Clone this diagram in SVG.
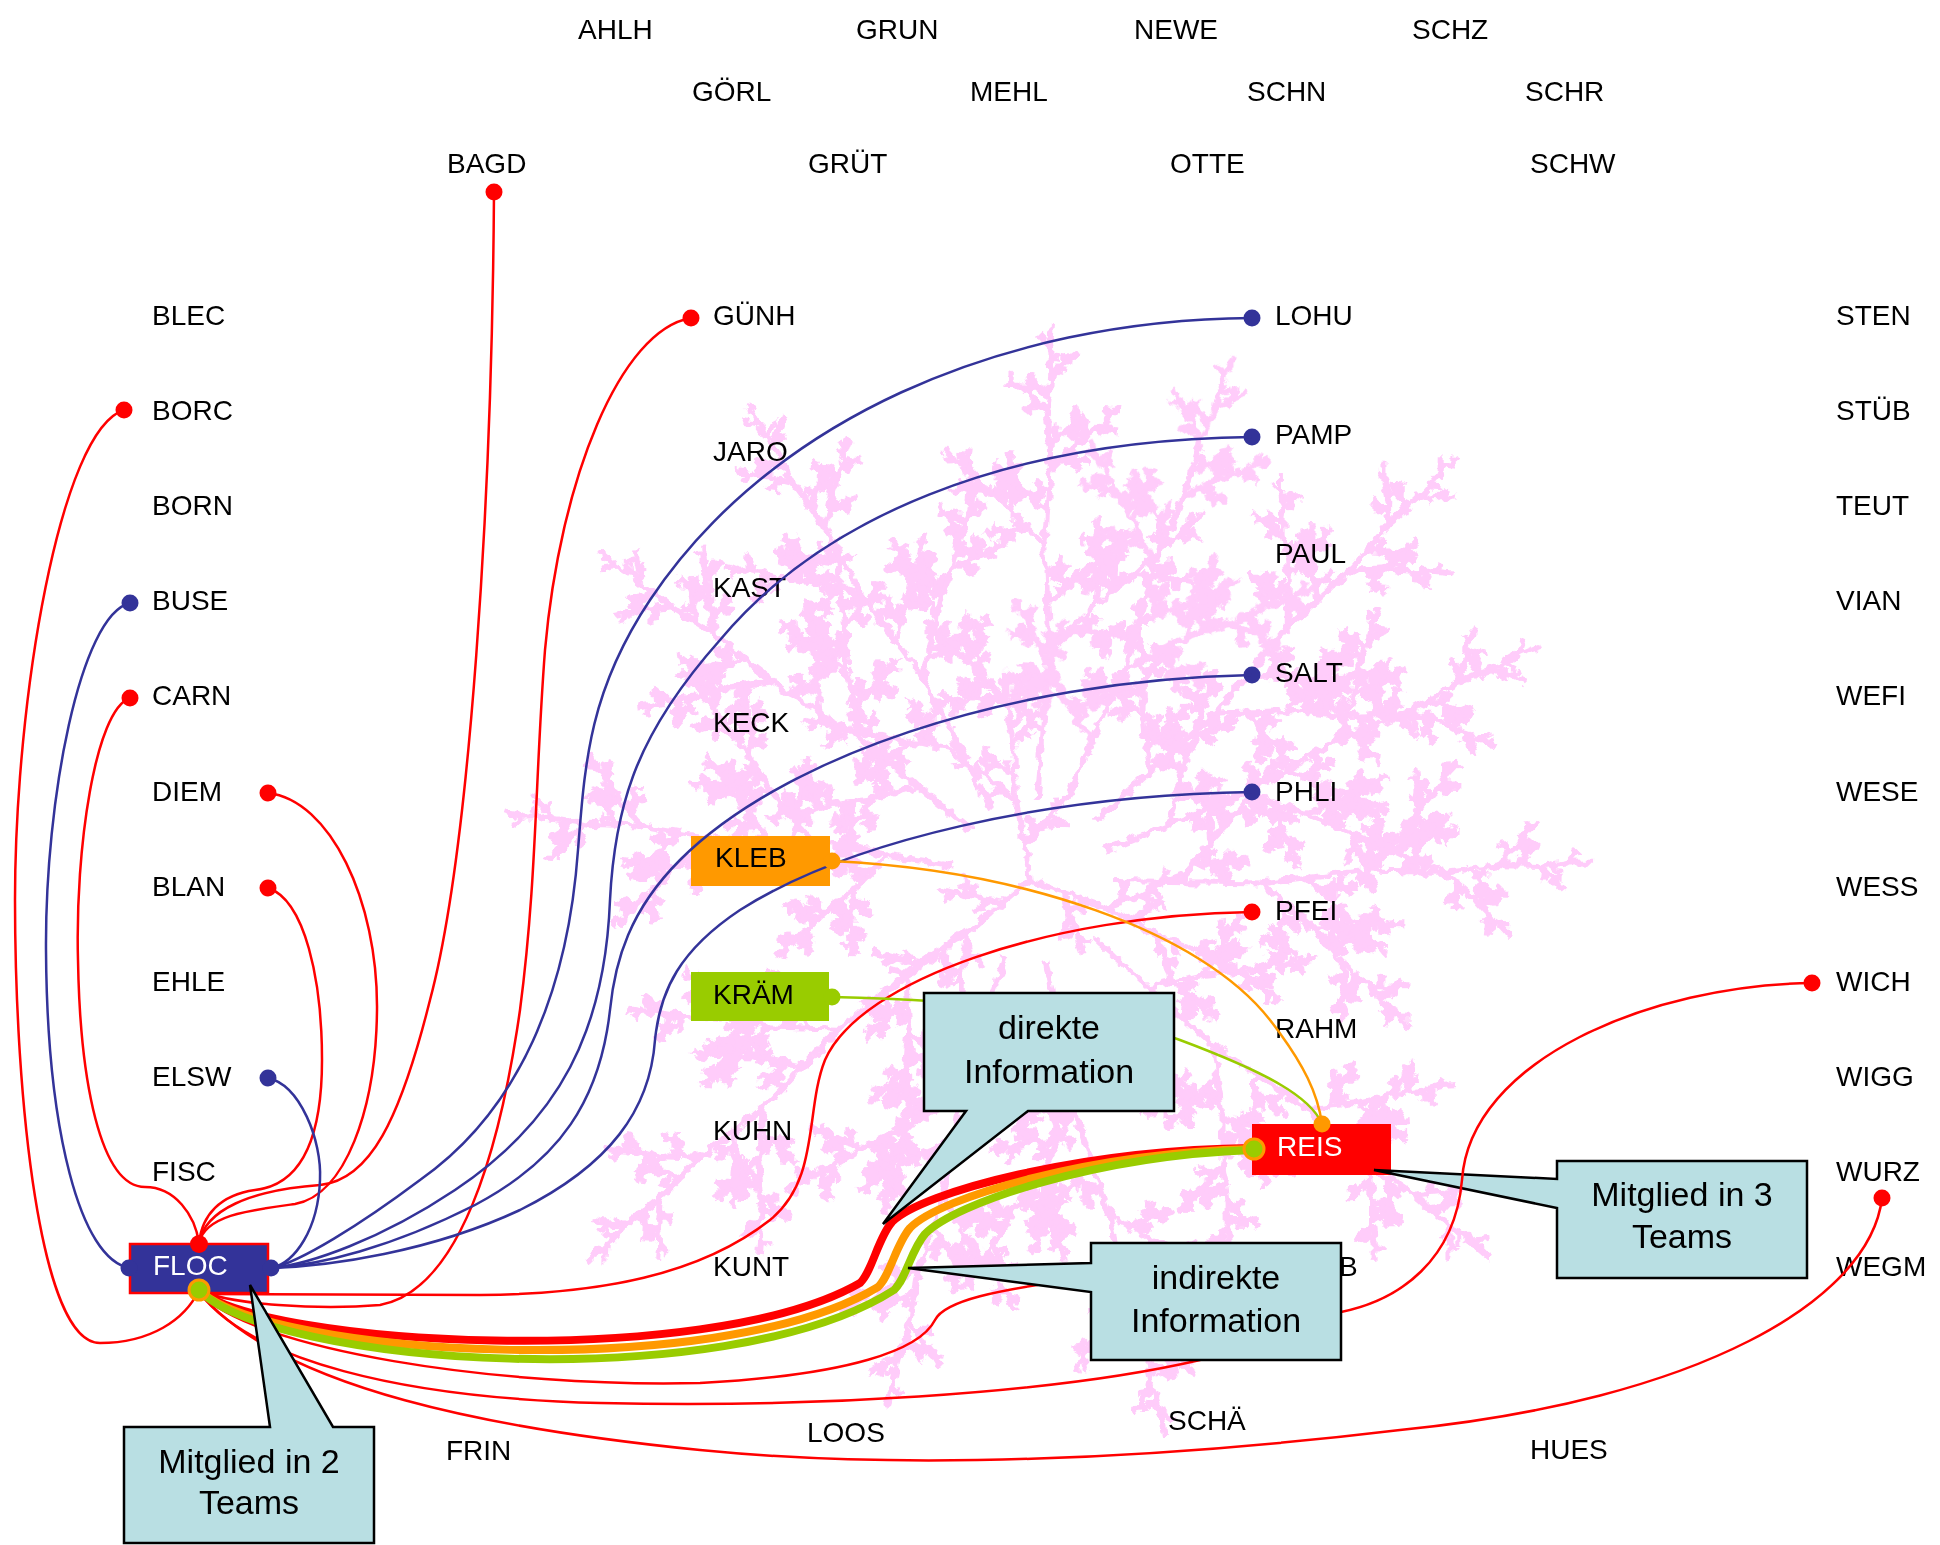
<svg xmlns="http://www.w3.org/2000/svg" xmlns:xlink="http://www.w3.org/1999/xlink" width="1940" height="1545" viewBox="0 0 1940 1545">
<style>
text{font-family:"Liberation Sans",Arial,sans-serif;font-size:28px;fill:#000}
.w{fill:#fff}
.co{font-size:34px;text-anchor:middle}
.c{fill:none;stroke-width:2.5}
.r{stroke:#ff0000}.b{stroke:#333399}.o{stroke:#ff9900}.g{stroke:#99cc00}
.t{fill:none;stroke-width:8}
.dr{fill:#ff0000}.db{fill:#333399}.do{fill:#ff9900}.dg{fill:#99cc00}
.callout{fill:#b9dfe3;stroke:#000;stroke-width:2.5}
</style>
<defs>
<filter id="rough" filterUnits="userSpaceOnUse" x="400" y="250" width="1300" height="1300">
<feTurbulence type="fractalNoise" baseFrequency="0.1" numOctaves="2" seed="4"/>
<feDisplacementMap in="SourceGraphic" scale="12" xChannelSelector="R" yChannelSelector="G"/>
</filter>
<g id="F0"><line x1="0" y1="0" x2="100" y2="0" vector-effect="non-scaling-stroke"/></g>
<g id="F1"><line x1="0" y1="0" x2="100" y2="0" vector-effect="non-scaling-stroke"/><use xlink:href="#F0" transform="translate(100,0) rotate(8) scale(0.72)"/><use xlink:href="#F0" transform="translate(100,0) rotate(-40) scale(0.45)"/><use xlink:href="#F0" transform="translate(45,0) rotate(55) scale(0.35)"/></g>
<g id="F2"><line x1="0" y1="0" x2="100" y2="0" vector-effect="non-scaling-stroke"/><use xlink:href="#F1" transform="translate(100,0) rotate(-8) scale(0.72)"/><use xlink:href="#F1" transform="translate(100,0) rotate(40) scale(0.45)"/><use xlink:href="#F1" transform="translate(45,0) rotate(-55) scale(0.35)"/></g>
<g id="F3"><line x1="0" y1="0" x2="100" y2="0" vector-effect="non-scaling-stroke"/><use xlink:href="#F2" transform="translate(100,0) rotate(8) scale(0.72)"/><use xlink:href="#F2" transform="translate(100,0) rotate(-40) scale(0.45)"/><use xlink:href="#F2" transform="translate(45,0) rotate(55) scale(0.35)"/></g>
<g id="F4"><line x1="0" y1="0" x2="100" y2="0" vector-effect="non-scaling-stroke"/><use xlink:href="#F3" transform="translate(100,0) rotate(-8) scale(0.72)"/><use xlink:href="#F3" transform="translate(100,0) rotate(40) scale(0.45)"/><use xlink:href="#F3" transform="translate(45,0) rotate(-55) scale(0.35)"/></g>
<g id="F5"><line x1="0" y1="0" x2="100" y2="0" vector-effect="non-scaling-stroke"/><use xlink:href="#F4" transform="translate(100,0) rotate(8) scale(0.72)"/><use xlink:href="#F4" transform="translate(100,0) rotate(-40) scale(0.45)"/><use xlink:href="#F4" transform="translate(45,0) rotate(55) scale(0.35)"/></g>
<g id="F6"><line x1="0" y1="0" x2="100" y2="0" vector-effect="non-scaling-stroke"/><use xlink:href="#F5" transform="translate(100,0) rotate(-8) scale(0.72)"/><use xlink:href="#F5" transform="translate(100,0) rotate(40) scale(0.45)"/><use xlink:href="#F5" transform="translate(45,0) rotate(-55) scale(0.35)"/></g>
</defs>
<rect width="1940" height="1545" fill="#fff"/>
<g id="background-fractal" filter="url(#rough)" stroke="#ffccfa" stroke-width="6" stroke-linecap="square">
<use xlink:href="#F6" transform="translate(1037,797) rotate(-85) scale(1.47)"/>
<use xlink:href="#F6" transform="translate(991,807) rotate(-118) scale(1.46)"/>
<use xlink:href="#F6" transform="translate(968,828) rotate(-140) scale(1.43)"/>
<use xlink:href="#F6" transform="translate(951,866) rotate(-170) scale(1.4)"/>
<use xlink:href="#F6" transform="translate(961,934) rotate(142) scale(1.54)"/>
<use xlink:href="#F6" transform="translate(1005,957) rotate(108) scale(1.44)"/>
<use xlink:href="#F6" transform="translate(1046,964) rotate(79) scale(1.51)"/>
<use xlink:href="#F6" transform="translate(1096,940) rotate(42) scale(1.57)"/>
<use xlink:href="#F6" transform="translate(1114,881) rotate(1) scale(1.48)"/>
<use xlink:href="#F6" transform="translate(1108,849) rotate(-22) scale(1.48)"/>
<use xlink:href="#F6" transform="translate(1097,820) rotate(-42) scale(1.59)"/>
<use xlink:href="#F6" transform="translate(1064,803) rotate(-66) scale(1.48)"/>
<use xlink:href="#F3" transform="translate(1030,880) rotate(-100) scale(0.8)"/>
<use xlink:href="#F3" transform="translate(1030,880) rotate(20) scale(0.8)"/>
<use xlink:href="#F3" transform="translate(1030,880) rotate(140) scale(0.8)"/>
</g>

<g id="labels">
<g id="n-AHLH"><text x="578" y="39">AHLH</text></g>
<g id="n-GRUN"><text x="856" y="39">GRUN</text></g>
<g id="n-NEWE"><text x="1134" y="39">NEWE</text></g>
<g id="n-SCHZ"><text x="1412" y="39">SCHZ</text></g>
<g id="n-GOERL"><text x="692" y="101">GÖRL</text></g>
<g id="n-MEHL"><text x="970" y="101">MEHL</text></g>
<g id="n-SCHN"><text x="1247" y="101">SCHN</text></g>
<g id="n-SCHR"><text x="1525" y="101">SCHR</text></g>
<g id="n-BAGD"><text x="447" y="173">BAGD</text><circle class="dr" cx="494" cy="192" r="8.5"/></g>
<g id="n-GRUET"><text x="808" y="173">GRÜT</text></g>
<g id="n-OTTE"><text x="1170" y="173">OTTE</text></g>
<g id="n-SCHW"><text x="1530" y="173">SCHW</text></g>

<g id="n-BLEC"><text x="152" y="325">BLEC</text></g>
<g id="n-BORC"><text x="152" y="420">BORC</text><circle class="dr" cx="124" cy="410" r="8.5"/></g>
<g id="n-BORN"><text x="152" y="515">BORN</text></g>
<g id="n-BUSE"><text x="152" y="610">BUSE</text><circle class="db" cx="130" cy="603" r="8.5"/></g>
<g id="n-CARN"><text x="152" y="705">CARN</text><circle class="dr" cx="130" cy="698" r="8.5"/></g>
<g id="n-DIEM"><text x="152" y="801">DIEM</text><circle class="dr" cx="268" cy="793" r="8.5"/></g>
<g id="n-BLAN"><text x="152" y="896">BLAN</text><circle class="dr" cx="268" cy="888" r="8.5"/></g>
<g id="n-EHLE"><text x="152" y="991">EHLE</text></g>
<g id="n-ELSW"><text x="152" y="1086">ELSW</text><circle class="db" cx="268" cy="1078" r="8.5"/></g>
<g id="n-FISC"><text x="152" y="1181">FISC</text></g>

<g id="n-GUENH"><text x="713" y="325">GÜNH</text><circle class="dr" cx="691" cy="318" r="8.5"/></g>
<g id="n-JARO"><text x="713" y="461">JARO</text></g>
<g id="n-KAST"><text x="713" y="597">KAST</text></g>
<g id="n-KECK"><text x="713" y="732">KECK</text></g>
<g id="n-KUHN"><text x="713" y="1140">KUHN</text></g>
<g id="n-KUNT"><text x="713" y="1276">KUNT</text></g>

<g id="n-LOHU"><text x="1275" y="325">LOHU</text><circle class="db" cx="1252" cy="318" r="8.5"/></g>
<g id="n-PAMP"><text x="1275" y="444">PAMP</text><circle class="db" cx="1252" cy="437" r="8.5"/></g>
<g id="n-PAUL"><text x="1275" y="563">PAUL</text></g>
<g id="n-SALT"><text x="1275" y="682">SALT</text><circle class="db" cx="1252" cy="675" r="8.5"/></g>
<g id="n-PHLI"><text x="1275" y="801">PHLI</text><circle class="db" cx="1252" cy="792" r="8.5"/></g>
<g id="n-PFEI"><text x="1275" y="920">PFEI</text><circle class="dr" cx="1252" cy="912" r="8.5"/></g>
<g id="n-RAHM"><text x="1275" y="1038">RAHM</text></g>
<g id="n-B"><text x="1339" y="1276">B</text><circle class="dr" cx="1252" cy="1268" r="8.5"/></g>

<g id="n-STEN"><text x="1836" y="325">STEN</text></g>
<g id="n-STUEB"><text x="1836" y="420">STÜB</text></g>
<g id="n-TEUT"><text x="1836" y="515">TEUT</text></g>
<g id="n-VIAN"><text x="1836" y="610">VIAN</text></g>
<g id="n-WEFI"><text x="1836" y="705">WEFI</text></g>
<g id="n-WESE"><text x="1836" y="801">WESE</text></g>
<g id="n-WESS"><text x="1836" y="896">WESS</text></g>
<g id="n-WICH"><text x="1836" y="991">WICH</text><circle class="dr" cx="1812" cy="983" r="8.5"/></g>
<g id="n-WIGG"><text x="1836" y="1086">WIGG</text></g>
<g id="n-WURZ"><text x="1836" y="1181">WURZ</text><circle class="dr" cx="1882" cy="1198" r="8.5"/></g>
<g id="n-WEGM"><text x="1836" y="1276">WEGM</text></g>

<g id="n-FRIN"><text x="446" y="1460">FRIN</text></g>
<g id="n-LOOS"><text x="807" y="1442">LOOS</text></g>
<g id="n-SCHAE"><text x="1168" y="1430">SCHÄ</text></g>
<g id="n-HUES"><text x="1530" y="1459">HUES</text></g>
</g>

<g id="n-FLOC"><rect x="130" y="1244" width="138" height="49" fill="#333399" stroke="#ff0000" stroke-width="2.5"/><text class="w" x="153" y="1275">FLOC</text></g>
<g id="n-KLEB"><rect x="691" y="836" width="139" height="50" fill="#ff9900"/><text x="715" y="867">KLEB</text></g>
<g id="n-KRAEM"><rect x="691" y="972" width="138" height="49" fill="#99cc00"/><text x="713" y="1004">KRÄM</text></g>
<g id="n-REIS"><rect x="1252" y="1124" width="139" height="51" fill="#ff0000"/><text class="w" x="1277" y="1156">REIS</text></g>

<g id="callout-3"><polygon class="callout" points="1557,1161 1807,1161 1807,1278 1557,1278 1557,1208 1374,1170 1557,1179"/><text class="co" x="1682" y="1206">Mitglied in 3</text><text class="co" x="1682" y="1248">Teams</text></g>

<g id="connectors">
<path class="c r" d="M124,410 C60,430 15,700 15,900 C15,1100 40,1343 100,1343 C150,1343 185,1320 199,1290"/>
<path class="c b" d="M130,603 C80,615 45,800 46,950 C47,1130 80,1260 130,1268"/>
<path class="c r" d="M130,698 C95,710 75,850 78,960 C80,1080 100,1187 145,1187 C175,1187 195,1215 199,1243"/>
<path class="c r" d="M268,793 C330,800 378,900 377,1010 C376,1110 345,1195 295,1204 C250,1210 205,1215 199,1243"/>
<path class="c r" d="M268,888 C305,900 322,980 322,1060 C322,1140 300,1185 255,1190 C220,1195 202,1215 199,1243"/>
<path class="c r" d="M494,192 C492,500 470,850 430,1000 C400,1120 370,1180 320,1185 C250,1190 205,1210 199,1243"/>
<path class="c r" d="M691,318 C620,330 560,480 545,650 C535,780 537,880 520,1010 C500,1150 460,1290 380,1305 C320,1310 230,1305 199,1290"/>
<path class="c r" d="M1252,912 C1050,915 860,980 825,1060 C805,1110 820,1180 770,1220 C700,1275 600,1294 480,1295 L205,1294"/>
<path class="c r" d="M1812,983 C1650,985 1470,1060 1462,1180 C1455,1260 1400,1300 1341,1312 C1250,1300 1130,1272 1070,1280 C1000,1290 945,1300 935,1320 C920,1350 850,1375 700,1383 C500,1388 250,1350 199,1292"/>
<path class="c r" d="M199,1292 C250,1360 400,1398 600,1403 C800,1408 1050,1395 1200,1360 C1230,1340 1250,1300 1252,1268"/>
<path class="c r" d="M1882,1198 C1870,1300 1700,1400 1400,1430 C1150,1460 900,1470 700,1450 C500,1430 280,1390 199,1292"/>
<path class="c b" d="M268,1078 C300,1085 322,1140 320,1180 C318,1230 295,1262 272,1268"/>
<path class="c b" d="M1252,318 C1000,320 770,420 650,600 C590,690 585,760 578,850 C568,990 520,1110 420,1180 C360,1225 300,1262 272,1268"/>
<path class="c b" d="M1252,437 C1000,440 820,520 720,640 C640,730 615,800 610,900 C605,1030 560,1120 455,1190 C380,1240 310,1264 272,1268"/>
<path class="c b" d="M1252,675 C1000,680 780,760 680,860 C630,910 615,960 610,1010 C600,1100 560,1160 475,1205 C390,1248 320,1265 272,1268"/>
<path class="c b" d="M1252,792 C1050,795 850,840 740,910 C680,950 660,990 655,1040 C650,1110 610,1165 520,1210 C430,1252 330,1266 272,1268"/>
<path class="c o" d="M832,861 C1020,870 1200,930 1270,1020 C1305,1065 1318,1095 1322,1124"/>
<path class="c g" d="M832,997 C950,1000 1100,1010 1180,1040 C1260,1070 1310,1095 1322,1124"/>
<path class="t r" d="M199,1290 C260,1345 705,1372 860,1283 C872,1272 878,1238 892,1222 C922,1192 1080,1150 1252,1148"/>
<path class="t o" d="M199,1290 C265,1355 715,1385 878,1287 C890,1276 896,1244 910,1228 C940,1197 1090,1153 1252,1149"/>
<path class="t g" d="M199,1290 C270,1365 725,1398 894,1290 C906,1279 911,1250 925,1234 C955,1203 1095,1156 1252,1150"/>
<g id="ports">
<circle class="dr" cx="199" cy="1244" r="9"/>
<circle class="db" cx="129" cy="1268" r="8.5"/>
<circle class="db" cx="271" cy="1268" r="8.5"/>
<circle class="dg" cx="199" cy="1290" r="10" stroke="#ff9900" stroke-width="3"/>
<circle class="do" cx="832" cy="861" r="8.5"/>
<circle class="dg" cx="832" cy="997" r="8.5"/>
<circle class="do" cx="1322" cy="1124" r="8.5"/>
<circle class="dg" cx="1254" cy="1149" r="10" stroke="#ff9900" stroke-width="3"/>
</g>
</g>

<g id="callout-direkt"><polygon class="callout" points="924,993 1174,993 1174,1111 1028,1111 883,1224 966,1111 924,1111"/><text class="co" x="1049" y="1039">direkte</text><text class="co" x="1049" y="1083">Information</text></g>
<g id="callout-indirekt"><polygon class="callout" points="1091,1243 1341,1243 1341,1360 1091,1360 1091,1292 908,1268 1091,1263"/><text class="co" x="1216" y="1289">indirekte</text><text class="co" x="1216" y="1332">Information</text></g>
<g id="callout-2"><polygon class="callout" points="124,1427 270,1427 250,1285 333,1427 374,1427 374,1543 124,1543"/><text class="co" x="249" y="1473">Mitglied in 2</text><text class="co" x="249" y="1514">Teams</text></g>
</svg>
